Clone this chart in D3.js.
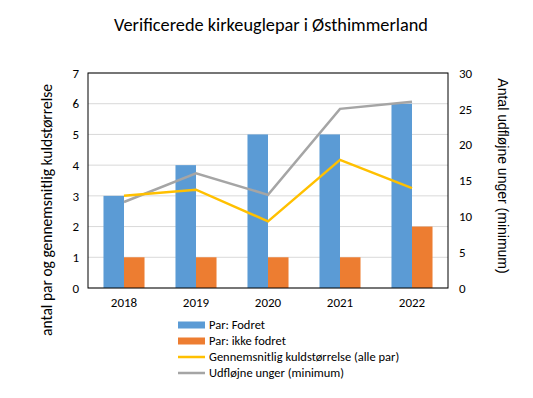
<!DOCTYPE html>
<html>
<head>
<meta charset="utf-8">
<script src="https://cdn.jsdelivr.net/npm/d3@7"></script>
<style>
  body { margin: 0; background: #fff; }
  svg { font-family: Carlito, Lato, "Open Sans", sans-serif; }
</style>
</head>
<body>
<div id="chart"></div>
<script>
const years = ['2018', '2019', '2020', '2021', '2022'];
const parFodret = [3, 4, 5, 5, 6];
const parIkkeFodret = [1, 1, 1, 1, 2];
const kuldstorrelse = [3.0, 3.2, 2.17, 4.17, 3.25];
const udflojne = [12, 16, 13, 25, 26];
const leftTicks = [0, 1, 2, 3, 4, 5, 6, 7];
const rightTicks = [0, 5, 10, 15, 20, 25, 30];

const width = 533, height = 398;
const m = { top: 73, right: 85, bottom: 110, left: 88 };
const innerW = width - m.left - m.right;
const innerH = height - m.top - m.bottom;

const svg = d3.select('#chart').append('svg')
  .attr('width', width)
  .attr('height', height);

svg.append('text')
  .attr('x', 271)
  .attr('y', 31)
  .attr('text-anchor', 'middle')
  .attr('font-size', '18.3px')
  .attr('fill', '#000')
  .text('Verificerede kirkeuglepar i Østhimmerland');

const g = svg.append('g').attr('transform', `translate(${m.left},${m.top})`);

const x = d3.scaleBand().domain(years).range([0, innerW]).paddingInner(0.43).paddingOuter(0.215);
const xSub = d3.scaleBand().domain(['a', 'b']).range([0, x.bandwidth()]);
const yL = d3.scaleLinear().domain([0, 7]).range([innerH, 0]);
const yR = d3.scaleLinear().domain([0, 30]).range([innerH, 0]);

// gridlines
g.append('g')
  .selectAll('line')
  .data(leftTicks)
  .join('line')
  .attr('x1', 0)
  .attr('x2', innerW)
  .attr('y1', d => yL(d))
  .attr('y2', d => yL(d))
  .attr('stroke', '#d9d9d9')
  .attr('stroke-width', 1);

// bars
const groups = g.append('g')
  .selectAll('g')
  .data(years)
  .join('g')
  .attr('transform', d => `translate(${x(d)},0)`);

groups.append('rect')
  .attr('x', xSub('a'))
  .attr('width', xSub.bandwidth())
  .attr('y', (d, i) => yL(parFodret[i]))
  .attr('height', (d, i) => innerH - yL(parFodret[i]))
  .attr('fill', '#5B9BD5');

groups.append('rect')
  .attr('x', xSub('b'))
  .attr('width', xSub.bandwidth())
  .attr('y', (d, i) => yL(parIkkeFodret[i]))
  .attr('height', (d, i) => innerH - yL(parIkkeFodret[i]))
  .attr('fill', '#ED7D31');

const cx = d => x(d) + x.bandwidth() / 2;

// lines
g.append('path')
  .datum(udflojne)
  .attr('fill', 'none')
  .attr('stroke', '#A5A5A5')
  .attr('stroke-width', 2.5)
  .attr('d', d3.line().x((d, i) => cx(years[i])).y(d => yR(d)));

g.append('path')
  .datum(kuldstorrelse)
  .attr('fill', 'none')
  .attr('stroke', '#FFC000')
  .attr('stroke-width', 2.5)
  .attr('d', d3.line().x((d, i) => cx(years[i])).y(d => yL(d)));

// frame
g.append('rect')
  .attr('width', innerW)
  .attr('height', innerH)
  .attr('fill', 'none')
  .attr('stroke', '#000')
  .attr('stroke-width', 1);

// axes
const leftAxis = g.append('g')
  .call(d3.axisLeft(yL).tickValues(leftTicks).tickFormat(d3.format('d')).tickSize(0).tickPadding(9));
const rightAxis = g.append('g')
  .attr('transform', `translate(${innerW},0)`)
  .call(d3.axisRight(yR).tickValues(rightTicks).tickFormat(d3.format('d')).tickSize(0).tickPadding(11));
const bottomAxis = g.append('g')
  .attr('transform', `translate(0,${innerH})`)
  .call(d3.axisBottom(x).tickSize(0).tickPadding(10));

[leftAxis, rightAxis, bottomAxis].forEach(a => {
  a.select('.domain').remove();
  a.selectAll('text').attr('font-size', '13px').attr('fill', '#000')
    .attr('font-family', 'Carlito, Lato, "Open Sans", sans-serif');
});

// axis titles
svg.append('text')
  .attr('transform', 'translate(52,210) rotate(-90)')
  .attr('text-anchor', 'middle')
  .attr('font-size', '15.5px')
  .text('antal par og gennemsnitlig kuldstørrelse');

svg.append('text')
  .attr('transform', 'translate(498,176) rotate(90)')
  .attr('text-anchor', 'middle')
  .attr('font-family', '"Liberation Sans", Arial, sans-serif')
  .attr('font-size', '14px')
  .text('Antal udfløjne unger (minimum)');

// legend
const legendItems = [
  { label: 'Par: Fodret', color: '#5B9BD5', type: 'bar' },
  { label: 'Par: ikke fodret', color: '#ED7D31', type: 'bar' },
  { label: 'Gennemsnitlig kuldstørrelse (alle par)', color: '#FFC000', type: 'line' },
  { label: 'Udfløjne unger (minimum)', color: '#A5A5A5', type: 'line' }
];

const legend = svg.append('g')
  .selectAll('g')
  .data(legendItems)
  .join('g')
  .attr('transform', (d, i) => `translate(178,${325 + i * 16})`);

legend.append('rect')
  .attr('x', 0)
  .attr('y', d => d.type === 'bar' ? -3.5 : -1.25)
  .attr('width', 27)
  .attr('height', d => d.type === 'bar' ? 7 : 2.5)
  .attr('fill', d => d.color);

legend.append('text')
  .attr('x', 31)
  .attr('y', 0)
  .attr('dy', '0.35em')
  .attr('font-size', '12.5px')
  .text(d => d.label);
</script>
</body>
</html>
